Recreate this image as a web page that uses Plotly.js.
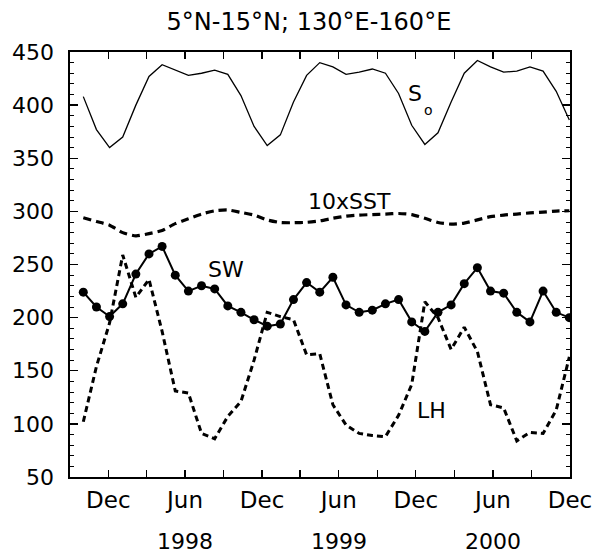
<!DOCTYPE html>
<html><head><meta charset="utf-8">
<script src="https://cdn.plot.ly/plotly-3.0.1.min.js"></script>
<style>html,body{margin:0;padding:0;background:#fff}</style>
</head><body><div id="chart" style="width:593px;height:559px"></div>
<script>
// Monthly samples (Oct 1997 – Nov 2000)
const months = [
 "Oct 1997","Nov 1997","Dec 1997",
 "Jan 1998","Feb 1998","Mar 1998","Apr 1998","May 1998","Jun 1998","Jul 1998","Aug 1998","Sep 1998","Oct 1998","Nov 1998","Dec 1998",
 "Jan 1999","Feb 1999","Mar 1999","Apr 1999","May 1999","Jun 1999","Jul 1999","Aug 1999","Sep 1999","Oct 1999","Nov 1999","Dec 1999",
 "Jan 2000","Feb 2000","Mar 2000","Apr 2000","May 2000","Jun 2000","Jul 2000","Aug 2000","Sep 2000","Oct 2000","Nov 2000"
];
const S0 = [408,377,360,370,400,427,438,433,428,430,433,429,409,380,362,372,403,428,440,436,429,431,434,430,411,381,363,374,403,430,442,436,431,432,436,432,413,386];
const SST10 = [294,290.5,287,280,277,279,282,288.5,293,297.5,300.5,301.3,299,296.5,292,289.5,289.3,289.7,291,293.5,295.5,296.5,297,297.5,298,297,293.5,289.5,288,289,292,295,296.5,297.5,298.5,299.3,300.3,300.6];
const SW = [224,210,201,213,241,260,267,240,225,230,227,211,205,198,192,194,217,233,224,238,212,205,207,213,217,196,187,205,212,232,247,225,223,205,196,225,205,200];
const LH = [102,154,195,259,219,236,187,131,129,91,86,107,121,160,205,201,198,165,166,118,99,91,89,88,108,137,215,200,170,191,168,118,115,84,92,91,113,163];

// Calendar axis ticks
const tickDates = ["1997-12-01","1998-03-01","1998-06-01","1998-09-01","1998-12-01","1999-03-01","1999-06-01","1999-09-01","1999-12-01","2000-03-01","2000-06-01","2000-09-01","2000-12-01"];
const tickText = ["Dec","","Jun","","Dec","","Jun","","Dec","","Jun","","Dec"];
const yearDates = ["1998-06-01","1999-06-01","2000-06-01"];
const yearText = ["1998","1999","2000"];

const FONT = "DejaVu Sans, sans-serif";

const traces = [
 {x: months, y: S0, type:'scatter', mode:'lines', line:{color:'black', width:1.3}},
 {x: months, y: SST10, type:'scatter', mode:'lines', line:{color:'black', width:3.2, dash:'8px,5px', shape:'spline', smoothing:0.6}},
 {x: months, y: LH, type:'scatter', mode:'lines', line:{color:'black', width:3, dash:'6px,4px'}},
 {x: months, y: SW, type:'scatter', mode:'lines+markers', line:{color:'black', width:2}, marker:{color:'black', size:9}},
 {x: [], y: [], xaxis:'x2', yaxis:'y', type:'scatter', mode:'lines', hoverinfo:'skip'}
];

function lab(text, x, y, size) {
 return {text:text, x:x, y:y, xref:'paper', yref:'paper', xanchor:'center', yanchor:'middle',
         showarrow:false, font:{family:FONT, size:size, color:'black'}};
}
const annotations = [
 lab('S', 0.69, 0.902, 22),
 lab('o', 0.716, 0.8635, 14),
 lab('10xSST', 0.558, 0.648, 22),
 lab('SW', 0.312, 0.488, 22),
 lab('LH', 0.722, 0.156, 22)
];
yearDates.forEach((d, i) => annotations.push({
 text: yearText[i], x: d, xref:'x2', y:-0.1506, yref:'paper', xanchor:'center', yanchor:'middle', showarrow:false,
 font:{family:FONT, size:22, color:'black'}
}));

const layout = {
 width:593, height:559,
 margin:{l:70, r:23, t:52, b:82},
 paper_bgcolor:'white', plot_bgcolor:'white',
 showlegend:false,
 title:{text:'5°N-15°N; 130°E-160°E', font:{family:FONT, size:24, color:'black'},
        x:0.521, xref:'container', xanchor:'center', y:0.962, yref:'container', yanchor:'middle'},
 xaxis:{type:'category', range:[-1.013, 37.05], visible:false, fixedrange:true},
 xaxis2:{type:'date', overlaying:'x', anchor:'y', side:'bottom', range:['1997-09-01','2000-12-01'],
   tickmode:'array', tickvals:tickDates, ticktext:tickText,
   ticks:'inside', ticklen:7, tickwidth:1.3, tickcolor:'black',
   showline:true, linecolor:'black', linewidth:1.6, mirror:'ticks',
   showgrid:false, zeroline:false, ticklabelstandoff:2,
   tickfont:{family:FONT, size:23, color:'black'}},
 yaxis:{range:[50,450], tickmode:'linear', tick0:50, dtick:50,
   ticks:'inside', ticklen:8, tickwidth:1.3, tickcolor:'black',
   minor:{dtick:10, ticks:'inside', ticklen:4, tickwidth:1, tickcolor:'black', showgrid:false},
   showline:true, linecolor:'black', linewidth:1.6, mirror:'ticks',
   showgrid:false, zeroline:false, ticklabelstandoff:10,
   tickfont:{family:FONT, size:22, color:'black'}},
 annotations: annotations
};

Plotly.newPlot('chart', traces, layout, {staticPlot:true, displayModeBar:false});
</script></body></html>
